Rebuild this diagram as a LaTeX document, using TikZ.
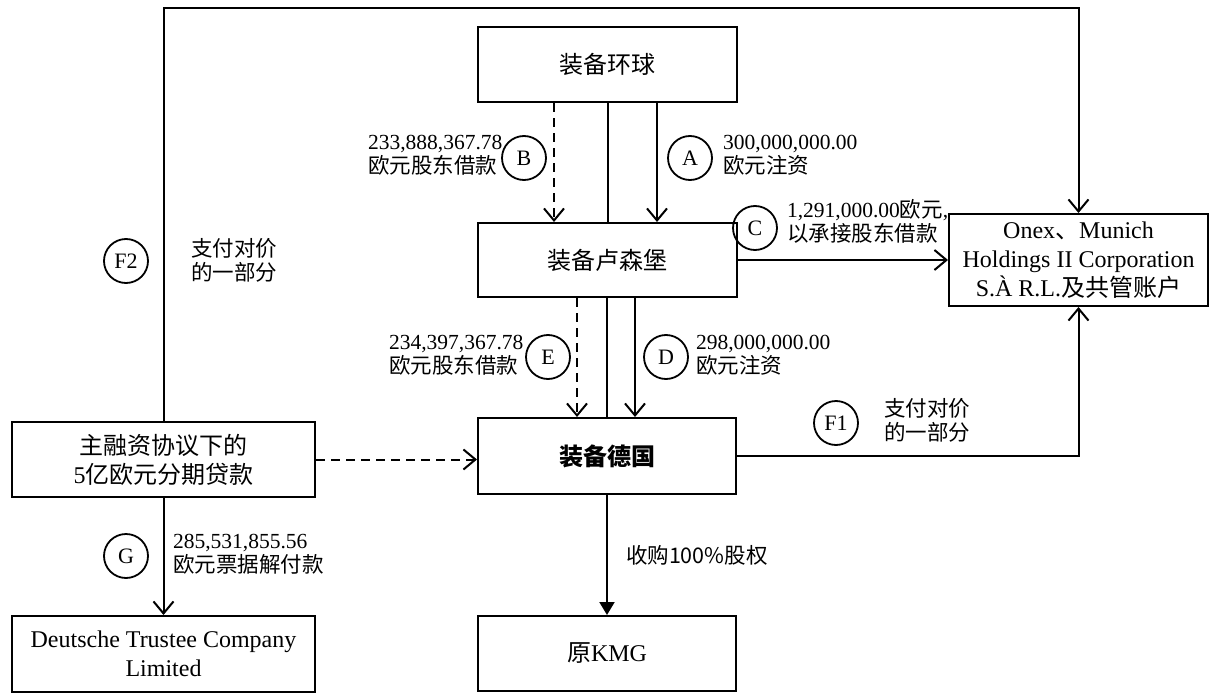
\documentclass[tikz,border=0pt]{standalone}
\usepackage{fontspec}
\setmainfont{Liberation Serif}
\newfontfamily\cjk{Noto Sans CJK SC}
\usetikzlibrary{arrows.meta}
\newcommand\zh[1]{{\cjk #1}}
\begin{document}
\begin{tikzpicture}[x=1pt,y=-1pt,line width=2pt,
  box/.style={draw,line width=2pt,inner sep=0pt,align=center,font=\fontsize{24}{29}\selectfont},
  lab/.style={anchor=west,align=left,inner sep=0pt,font=\fontsize{21.5}{24}\selectfont},
  circ/.style={draw,circle,line width=1.8pt,minimum size=44pt,inner sep=0pt,font=\fontsize{22}{22}\selectfont},
  arr/.style={-{Straight Barb[length=12pt,width=20pt]}},
  farr/.style={-{Triangle[length=13pt,width=15pt]}},
  dsh/.style={dash pattern=on 9pt off 6pt}]
\useasboundingbox (0,0) rectangle (1211,693);
% boxes
\node[box,minimum width=259pt,minimum height=75pt] (hq) at (607.5,64.5) {\zh{装备环球}};
\node[box,minimum width=259pt,minimum height=74pt] (lux) at (607.5,260) {\zh{装备卢森堡}};
\node[box,minimum width=258pt,minimum height=76pt] (de) at (607,456) {\zh{\bfseries 装备德国}};
\node[box,minimum width=258pt,minimum height=75pt] (kmg) at (607,653.5) {\zh{原}KMG};
\node[box,minimum width=303pt,minimum height=75pt] (fin) at (163.5,459.5) {\zh{主融资协议下的}\\5\zh{亿欧元分期贷款}};
\node[box,minimum width=303pt,minimum height=76pt] (dt) at (163.5,654) {Deutsche Trustee Company\\Limited};
\node[box,minimum width=259pt,minimum height=92pt] (onex) at (1078.5,260) {Onex\zh{、}Munich\\Holdings II Corporation\\S.À R.L.\zh{及共管账户}};
% x positions
\coordinate (xB) at (554,0);
\coordinate (xM1) at (608,0);
\coordinate (xA) at (657,0);
\coordinate (xE) at (577,0);
\coordinate (xM2) at (607,0);
\coordinate (xD) at (635,0);
\coordinate (top) at (0,8);
% connectors
\draw[arr,dsh] (hq.south -| xB) -- (lux.north -| xB);
\draw (hq.south -| xM1) -- (lux.north -| xM1);
\draw[arr] (hq.south -| xA) -- (lux.north -| xA);
\draw[arr,dsh] (lux.south -| xE) -- (de.north -| xE);
\draw (lux.south -| xM2) -- (de.north -| xM2);
\draw[arr] (lux.south -| xD) -- (de.north -| xD);
\draw[arr] (lux.east) -- (lux.east -| onex.west);
\draw[arr] (de.east) -- (de.east -| onex.south) -- (onex.south);
\draw[arr] (fin.north) -- (fin.north |- top) -- (onex.north |- top) -- (onex.north);
\draw[arr,dsh] (fin.east) -- (fin.east -| de.west);
\draw[farr] (de.south) -- (kmg.north);
\draw[arr] (fin.south) -- (dt.north);
% circles
\node[circ] (cB) at (524,158) {B};
\node[circ] (cA) at (690,158) {A};
\node[circ] (cC) at (755,228) {C};
\node[circ] (cE) at (548,357) {E};
\node[circ] (cD) at (666,357) {D};
\node[circ] (cF1) at (836,423) {F1};
\node[circ] (cF2) at (126,261) {F2};
\node[circ] (cG) at (126,556) {G};
% labels
\node[lab] (lB) at (367,155) {233,888,367.78\\\zh{欧元股东借款}};
\node[lab] (lA) at (722,155) {300,000,000.00\\\zh{欧元注资}};
\node[lab] (lC) at (786,221.5) {1,291,000.00\zh{欧元},\\\zh{以承接股东借款}};
\node[lab] (lE) at (388,355) {234,397,367.78\\\zh{欧元股东借款}};
\node[lab] (lD) at (695,355) {298,000,000.00\\\zh{欧元注资}};
\node[lab] (lF1) at (883,420) {\zh{支付对价}\\\zh{的一部分}};
\node[lab] (lF2) at (190,260) {\zh{支付对价}\\\zh{的一部分}};
\node[lab] (lG) at (172,554.5) {285,531,855.56\\\zh{欧元票据解付款}};
\node[lab] (lK) at (625,555) {\zh{收购100\%股权}};
\end{tikzpicture}
\end{document}
